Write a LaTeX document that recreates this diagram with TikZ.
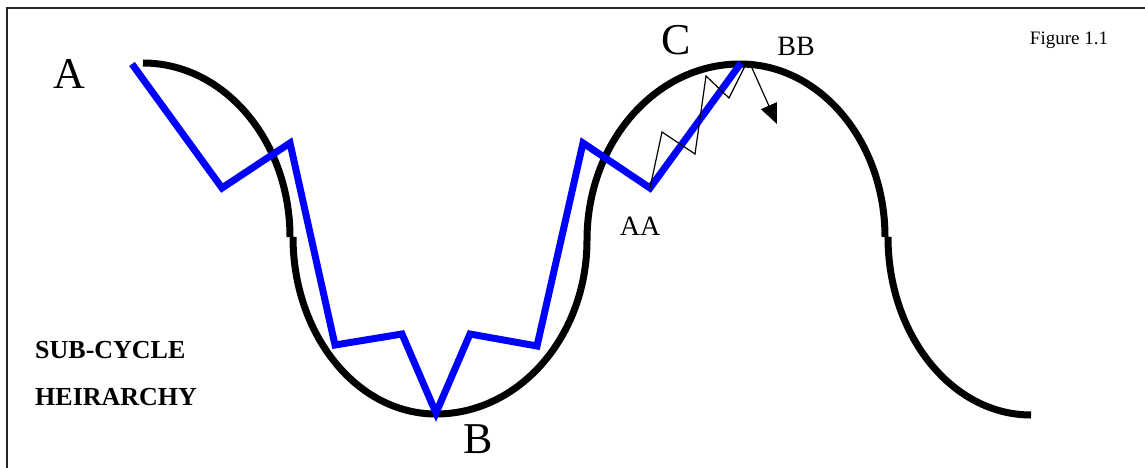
\documentclass[tikz,border=0pt]{standalone}
\usepackage{fontspec}
\setmainfont{Liberation Serif}
\usetikzlibrary{arrows.meta}
\begin{document}
\begin{tikzpicture}[x=1pt,y=-1pt,
  wave/.style={line width=7pt,black},
  path/.style={line width=7pt,blue,line join=miter},
  thin/.style={line width=1.2pt,black},
  lbl/.style={inner sep=0pt,anchor=base},
  big/.style={lbl,font=\fontsize{44}{44}\selectfont},
  mid/.style={lbl,font=\fontsize{28}{28}\selectfont},
  title/.style={inner sep=0pt,anchor=base west,font=\fontsize{26}{26}\selectfont\bfseries}]
\useasboundingbox (0,0) rectangle (1145,468);
\fill[white] (0,0) rectangle (1145,468);
% frame
\draw[line width=1.5pt,black!85] (7,468) -- (7,8) -- (1145,8);
% black wave
\draw[wave] (143,63) .. controls (224.2,63) and (290,140.9) .. (290,237);
\draw[wave] (293,237) .. controls (293,334.8) and (357,414) .. (436,414)
  .. controls (519.4,414) and (587,336.1) .. (587,240)
  .. controls (587,142.8) and (655.5,64) .. (740,64)
  .. controls (820.1,64) and (885,141.5) .. (885,237);
\draw[wave] (888,237) .. controls (888,335.3) and (952,415) .. (1031,415);
% blue path
\coordinate (p0) at (132,64);
\coordinate (p1) at (222,188);
\coordinate (p2) at (290,143);
\coordinate (p3) at (335,345);
\coordinate (p4) at (402,334);
\coordinate (p5) at (436,413);
\coordinate (p6) at (470,334);
\coordinate (p7) at (537,346);
\coordinate (p8) at (583,143);
\coordinate (aa) at (650,188);
\coordinate (cc) at (741,63);
\draw[path] (p0) -- (p1) -- (p2) -- (p3) -- (p4) -- (p5) -- (p6) -- (p7) -- (p8) -- (aa) -- (cc);
% thin zigzag
\coordinate (z1) at (662,132);
\coordinate (z2) at (695,154);
\coordinate (z3) at (706,76);
\coordinate (z4) at (729,98);
\coordinate (z5) at (746,64);
\draw[thin] (aa) -- (z1) -- (z2) -- (z3) -- (z4) -- (z5);
\coordinate (a0) at (752,68);
\coordinate (a1) at (777,124);
\draw[thin,-{Triangle[length=20pt,width=17pt]}] (a0) -- (a1);
% labels
\node[big] (A) at (69,89) {A};
\node[big] (C) at (676,55) {C};
\node[big] (B) at (478,453) {B};
\node[mid] (BB) at (796,56) {BB};
\node[mid] (AA) at (640,235) {AA};
\node[lbl,font=\fontsize{19}{19}\selectfont] (fig) at (1069,45) {Figure 1.1};
\node[title] (t1) at (35,358) {SUB-CYCLE};
\node[title] (t2) at (35,405) {HEIRARCHY};
\end{tikzpicture}
\end{document}
